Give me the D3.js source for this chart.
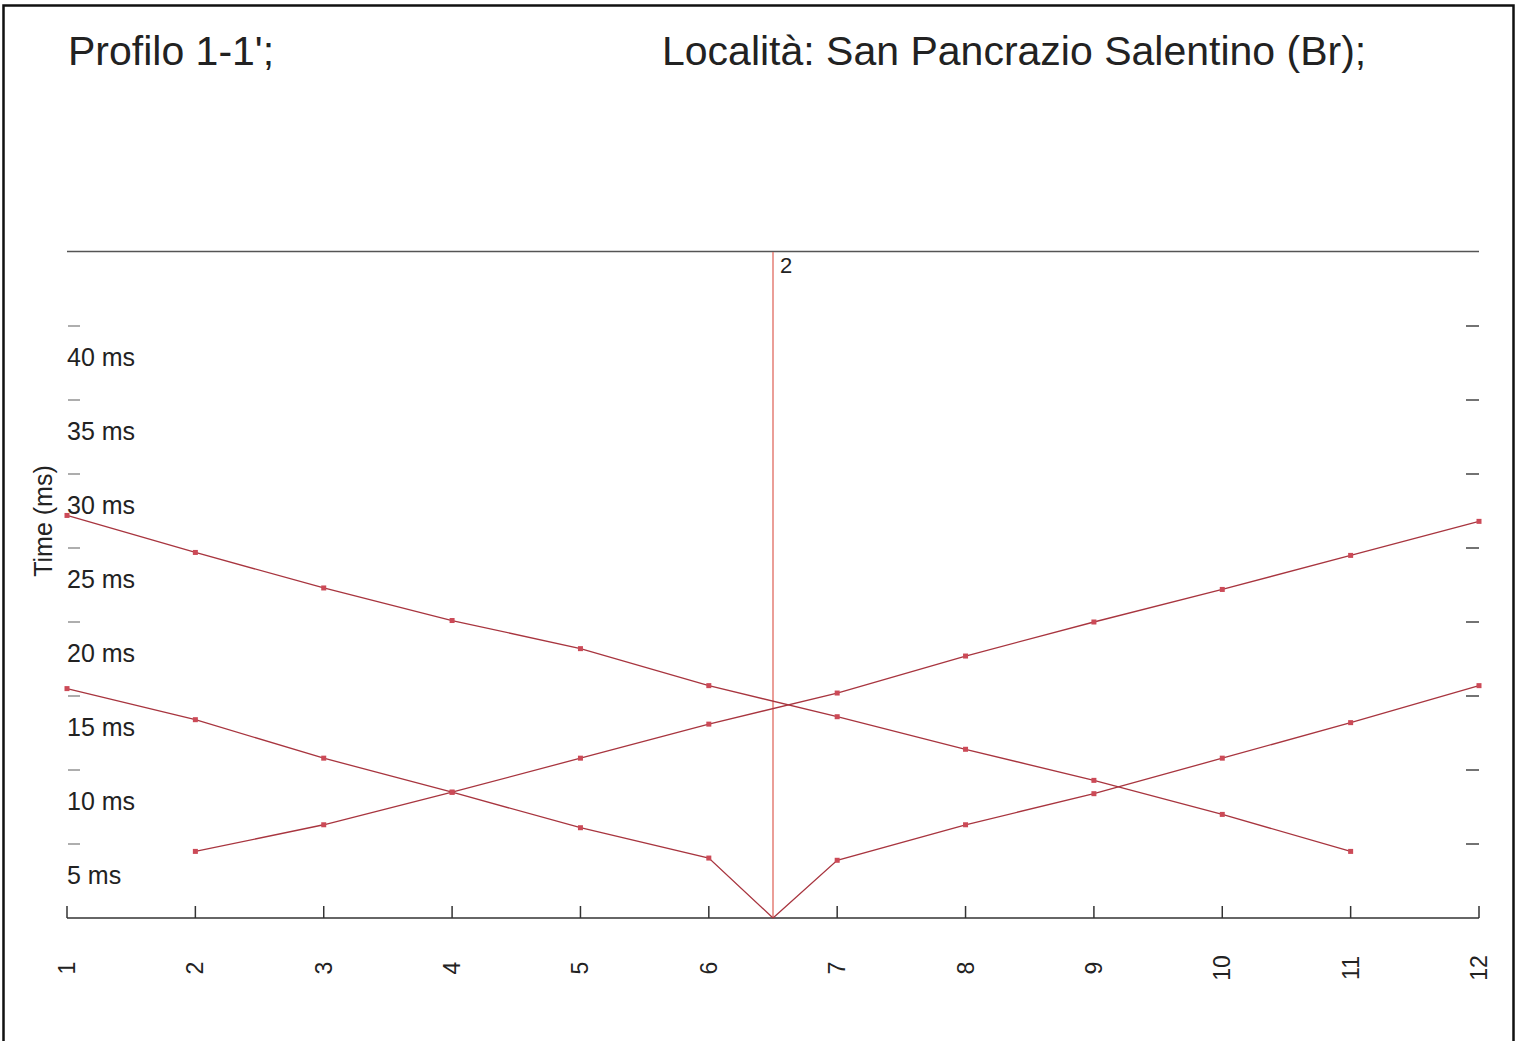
<!DOCTYPE html>
<html>
<head>
<meta charset="utf-8">
<script src="https://cdn.jsdelivr.net/npm/d3@7/dist/d3.min.js"></script>
<style>
  html, body { margin: 0; padding: 0; background: #fff; }
  svg { display: block; font-family: Arial, "Liberation Sans", sans-serif; }
</style>
</head>
<body>
<svg id="chart" width="1517" height="1041"></svg>
<script>
// ─── Dati ────────────────────────────────────────────────────────────────────
const stations = [1, 2, 3, 4, 5, 6, 7, 8, 9, 10, 11, 12];
const shotPos = 6.5;            // posizione dello scoppio "2"
const shotLabel = '2';
const yTicks = [5, 10, 15, 20, 25, 30, 35, 40];

// Dromocrone (ms)
const farShotRight = [ // scoppio esterno a destra: tempi decrescenti verso destra
  [1, 27.2], [2, 24.7], [3, 22.3], [4, 20.1], [5, 18.2], [6, 15.7],
  [7, 13.6], [8, 11.4], [9, 9.3], [10, 7.0], [11, 4.5]
];
const farShotLeft = [  // scoppio esterno a sinistra: tempi crescenti verso destra
  [2, 4.5], [3, 6.3], [4, 8.5], [5, 10.8], [6, 13.1], [7, 15.2],
  [8, 17.7], [9, 20.0], [10, 22.2], [11, 24.5], [12, 26.8]
];
const centerLeft = [   // scoppio centrale, ramo sinistro
  [1, 15.5], [2, 13.4], [3, 10.8], [4, 8.5], [5, 6.1], [6, 4.05], [6.5, 0]
];
const centerRight = [  // scoppio centrale, ramo destro
  [6.5, 0], [7, 3.9], [8, 6.3], [9, 8.4], [10, 10.8], [11, 13.2], [12, 15.7]
];
const series = [farShotRight, farShotLeft, centerLeft, centerRight];

// ─── Layout ──────────────────────────────────────────────────────────────────
const svg = d3.select('#chart');
const W = 1517, H = 1041;

const x = d3.scaleLinear().domain([1, 12]).range([67, 1479]);
const y = d3.scaleLinear().domain([0, 45]).range([918, 252]);

// cornice
svg.append('rect')
  .attr('x', 3.5).attr('y', 5.5).attr('width', W - 7).attr('height', H - 4)
  .attr('fill', 'none').attr('stroke', '#111').attr('stroke-width', 2.5);

// titoli
svg.append('text').attr('x', 68).attr('y', 65)
  .attr('font-size', 41).attr('fill', '#222').text("Profilo 1-1';");
svg.append('text').attr('x', 662).attr('y', 65)
  .attr('font-size', 41).attr('fill', '#222').text('Località: San Pancrazio Salentino (Br);');

// linea superiore
svg.append('line')
  .attr('x1', x(1)).attr('x2', x(12)).attr('y1', 251.5).attr('y2', 251.5)
  .attr('stroke', '#555').attr('stroke-width', 1.3);

// asse inferiore
const xAxis = svg.append('g').attr('transform', `translate(0,${y(0)})`);
xAxis.append('line')
  .attr('x1', x(1)).attr('x2', x(12))
  .attr('stroke', '#333').attr('stroke-width', 1.5);
const xt = xAxis.selectAll('g.xt').data(stations).join('g')
  .attr('class', 'xt').attr('transform', d => `translate(${x(d)},0)`);
xt.append('line').attr('y1', 0).attr('y2', -12)
  .attr('stroke', '#333').attr('stroke-width', 1.5);
xt.append('text')
  .attr('transform', 'translate(8,50) rotate(-90)')
  .attr('text-anchor', 'middle')
  .attr('font-size', 23).attr('fill', '#222')
  .text(d => d);

// tacche asse Y sinistra / destra
const yt = svg.append('g').selectAll('g').data(yTicks).join('g')
  .attr('transform', d => `translate(0,${y(d)})`);
yt.append('line').attr('x1', 68).attr('x2', 80)
  .attr('stroke', '#777').attr('stroke-width', 1.2);
yt.append('line').attr('x1', 1466).attr('x2', 1479)
  .attr('stroke', '#444').attr('stroke-width', 1.5);
yt.append('text').attr('x', 67).attr('y', 40)
  .attr('font-size', 25).attr('fill', '#222')
  .text(d => `${d} ms`);

// titolo asse Y
svg.append('text')
  .attr('transform', `translate(52,521) rotate(-90)`)
  .attr('text-anchor', 'middle')
  .attr('font-size', 25).attr('fill', '#222')
  .text('Time (ms)');

// linea verticale dello scoppio
svg.append('line')
  .attr('x1', x(shotPos)).attr('x2', x(shotPos))
  .attr('y1', 252).attr('y2', y(0))
  .attr('stroke', '#e06a60').attr('stroke-width', 1.3);
svg.append('text')
  .attr('x', x(shotPos) + 7).attr('y', 273)
  .attr('font-size', 22).attr('fill', '#222')
  .text(shotLabel);

// dromocrone
const line = d3.line().x(d => x(d[0])).y(d => y(d[1]));
series.forEach(s => {
  svg.append('path').datum(s)
    .attr('d', line)
    .attr('fill', 'none')
    .attr('stroke', '#a8353f').attr('stroke-width', 1.3);
  svg.append('g').selectAll('rect')
    .data(s.filter(d => d[0] !== shotPos)).join('rect')
    .attr('x', d => x(d[0]) - 2.5).attr('y', d => y(d[1]) - 2.5)
    .attr('width', 5).attr('height', 5)
    .attr('fill', '#cc4a57');
});
</script>
</body>
</html>
